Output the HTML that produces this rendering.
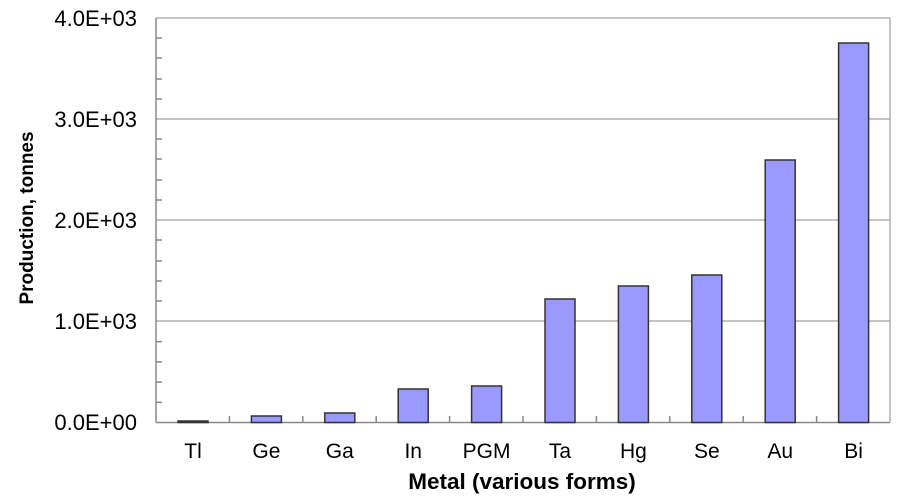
<!DOCTYPE html>
<html><head><style>body{margin:0;background:#fff}</style></head><body>
<svg width="919" height="496" xmlns="http://www.w3.org/2000/svg" font-family="Liberation Sans, Arial, sans-serif">
<rect width="919" height="496" fill="#fff"/>
<g stroke="#b0b0b0" stroke-width="1.5">
<line x1="156" y1="18" x2="890" y2="18"/>
<line x1="156" y1="119" x2="890" y2="119"/>
<line x1="156" y1="220" x2="890" y2="220"/>
<line x1="156" y1="321" x2="890" y2="321"/>
<line x1="890" y1="18" x2="890" y2="422.5"/>
</g>
<g stroke="#888" stroke-width="1.5">
<line x1="156" y1="18" x2="156" y2="422.5"/>
<line x1="156" y1="422.5" x2="890" y2="422.5"/>
<line x1="156" y1="402.3" x2="162" y2="402.3"/><line x1="156" y1="382.1" x2="162" y2="382.1"/><line x1="156" y1="361.9" x2="162" y2="361.9"/><line x1="156" y1="341.7" x2="162" y2="341.7"/>
<line x1="156" y1="301" x2="162" y2="301"/><line x1="156" y1="281" x2="162" y2="281"/><line x1="156" y1="261" x2="162" y2="261"/><line x1="156" y1="240" x2="162" y2="240"/>
<line x1="156" y1="200" x2="162" y2="200"/><line x1="156" y1="180" x2="162" y2="180"/><line x1="156" y1="159" x2="162" y2="159"/><line x1="156" y1="139" x2="162" y2="139"/>
<line x1="156" y1="99" x2="162" y2="99"/><line x1="156" y1="79" x2="162" y2="79"/><line x1="156" y1="58" x2="162" y2="58"/><line x1="156" y1="38" x2="162" y2="38"/>
<line x1="229.4" y1="416" x2="229.4" y2="422.5"/><line x1="302.8" y1="416" x2="302.8" y2="422.5"/><line x1="376.2" y1="416" x2="376.2" y2="422.5"/><line x1="449.6" y1="416" x2="449.6" y2="422.5"/><line x1="523" y1="416" x2="523" y2="422.5"/><line x1="596.4" y1="416" x2="596.4" y2="422.5"/><line x1="669.8" y1="416" x2="669.8" y2="422.5"/><line x1="743.2" y1="416" x2="743.2" y2="422.5"/><line x1="816.6" y1="416" x2="816.6" y2="422.5"/>
</g>
<g fill="#9999ff" stroke="#333" stroke-width="1.5">
<rect x="178" y="421" width="30" height="1.5"/>
<rect x="251.4" y="416" width="30" height="6.5"/>
<rect x="324.8" y="413" width="30" height="9.5"/>
<rect x="398.2" y="389" width="30" height="33.5"/>
<rect x="471.6" y="386" width="30" height="36.5"/>
<rect x="545" y="299" width="30" height="123.5"/>
<rect x="618.4" y="286" width="30" height="136.5"/>
<rect x="691.8" y="275" width="30" height="147.5"/>
<rect x="765.2" y="160" width="30" height="262.5"/>
<rect x="838.6" y="43" width="30" height="379.5"/>
</g>
<g font-size="22" text-anchor="end" fill="#000">
<text x="137" y="430">0.0E+00</text>
<text x="137" y="329">1.0E+03</text>
<text x="137" y="228">2.0E+03</text>
<text x="137" y="127">3.0E+03</text>
<text x="137" y="26">4.0E+03</text>
</g>
<g font-size="21" text-anchor="middle" fill="#000">
<text x="193" y="458">Tl</text><text x="266.4" y="458">Ge</text><text x="339.8" y="458">Ga</text><text x="413.2" y="458">In</text><text x="486.6" y="458">PGM</text><text x="560" y="458">Ta</text><text x="633.4" y="458">Hg</text><text x="706.8" y="458">Se</text><text x="780.2" y="458">Au</text><text x="853.6" y="458">Bi</text>
</g>
<text x="522" y="489" font-size="22.5" font-weight="bold" text-anchor="middle">Metal (various forms)</text>
<text transform="translate(33,218) rotate(-90)" font-size="19" font-weight="bold" text-anchor="middle">Production, tonnes</text>
</svg>
</body></html>
